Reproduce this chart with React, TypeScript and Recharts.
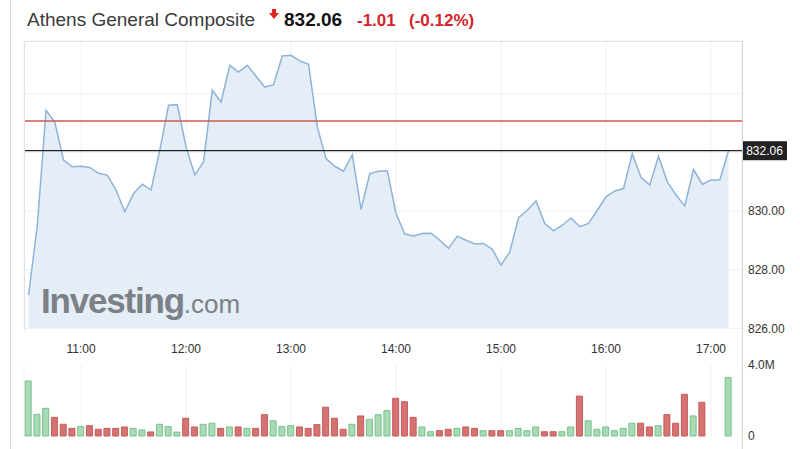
import {
  ComposedChart,
  Area,
  Bar,
  Cell,
  XAxis,
  YAxis,
  CartesianGrid,
  ReferenceLine
} from "recharts"

// 5-minute session points, Athens General Composite
const times = [
  "10:30", "10:35", "10:40", "10:45", "10:50", "10:55",
  "11:00", "11:05", "11:10", "11:15", "11:20", "11:25", "11:30", "11:35", "11:40", "11:45", "11:50", "11:55",
  "12:00", "12:05", "12:10", "12:15", "12:20", "12:25", "12:30", "12:35", "12:40", "12:45", "12:50", "12:55",
  "13:00", "13:05", "13:10", "13:15", "13:20", "13:25", "13:30", "13:35", "13:40", "13:45", "13:50", "13:55",
  "14:00", "14:05", "14:10", "14:15", "14:20", "14:25", "14:30", "14:35", "14:40", "14:45", "14:50", "14:55",
  "15:00", "15:05", "15:10", "15:15", "15:20", "15:25", "15:30", "15:35", "15:40", "15:45", "15:50", "15:55",
  "16:00", "16:05", "16:10", "16:15", "16:20", "16:25", "16:30", "16:35", "16:40", "16:45", "16:50", "16:55",
  "17:00", "17:05", "17:10"
]

const prices = [
  827.14, 829.52, 833.44, 833.04, 831.74, 831.51,
  831.53, 831.49, 831.29, 831.23, 830.72, 829.98, 830.6, 830.92, 830.72, 832.08, 833.61, 833.63,
  832.19, 831.23, 831.68, 834.12, 833.72, 834.97, 834.74, 834.97, 834.6, 834.23, 834.31, 835.29,
  835.31, 835.12, 835.01, 832.87, 831.79, 831.53, 831.36, 831.93, 830.06, 831.28, 831.36, 831.38,
  829.92, 829.22, 829.15, 829.24, 829.25, 829.01, 828.73, 829.15, 829.01, 828.88, 828.9, 828.7,
  828.16, 828.61, 829.78, 830.03, 830.35, 829.58, 829.33, 829.52, 829.77, 829.47, 829.58, 830.03,
  830.49, 830.69, 830.77, 831.96, 831.15, 830.89, 831.87, 831.0, 830.55, 830.18, 831.42, 830.92,
  831.06, 831.06, 832.06
]

// volume in millions
const volumes = [
  3.1, 1.22, 1.56, 1.05, 0.66, 0.43,
  0.53, 0.58, 0.38, 0.43, 0.43, 0.51, 0.43, 0.34, 0.23, 0.66, 0.53, 0.22,
  1.0, 0.51, 0.66, 0.72, 0.43, 0.51, 0.51, 0.43, 0.43, 1.2, 0.86, 0.53,
  0.58, 0.51, 0.43, 0.64, 1.62, 1.0, 0.38, 0.66, 1.13, 0.94, 1.2, 1.43,
  2.12, 1.93, 1.05, 0.51, 0.24, 0.3, 0.38, 0.43, 0.51, 0.43, 0.3, 0.3,
  0.3, 0.3, 0.43, 0.3, 0.51, 0.24, 0.24, 0.24, 0.51, 2.25, 0.86, 0.38,
  0.51, 0.3, 0.43, 0.72, 0.72, 0.51, 0.58, 1.2, 0.72, 2.35, 1.13, 1.9,
  0, 0, 3.3
]

const prevClose = 833.07
const lastPrice = 832.06
const hourTicks = ["11:00", "12:00", "13:00", "14:00", "15:00", "16:00", "17:00"]
const priceTicks = [826, 828, 830, 832, 834]
const volumeTicks = [0, 4]

const toMinutes = (s: string) => {
  const [h, m] = s.split(":").map(Number)
  return h * 60 + m
}
const fmtTime = (v: number) => `${Math.floor(v / 60)}:${String(v % 60).padStart(2, "0")}`

const data = times.map((s, i) => ({
  t: toMinutes(s),
  price: prices[i],
  volume: volumes[i],
  up: i === 0 || prices[i] >= prices[i - 1]
}))

const xDomain = [627.4, 1037.7]
const xTicks = hourTicks.map(toMinutes)
const axisTick = { fill: "#333", fontSize: 12 }

const PriceTag = ({ viewBox }: any) => {
  const { x, y, width } = viewBox
  return (
    <g>
      <rect x={x + width} y={y - 9.5} width={45} height={19} fill="#222" />
      <text x={x + width + 22.5} y={y + 4.5} textAnchor="middle" fill="#fff" fontSize={12}>
        {lastPrice.toFixed(2)}
      </text>
    </g>
  )
}

const line = (style: React.CSSProperties) => (
  <div style={{ position: "absolute", background: "#e2e2e2", ...style }} />
)

export default function App() {
  return (
    <div
      style={{
        position: "absolute",
        left: 0,
        top: 0,
        width: 800,
        height: 449,
        background: "#fff",
        overflow: "hidden",
        fontFamily: "Arial, 'Liberation Sans', sans-serif"
      }}
    >
      {line({ left: 10, top: 0, width: 1, height: 449, background: "#d8d8d8" })}

      {/* header */}
      <div style={{ position: "absolute", left: 27, top: 9, fontSize: 19, lineHeight: "22px", color: "#3a3a3a" }}>
        Athens General Composite
      </div>
      <svg style={{ position: "absolute", left: 269, top: 9 }} width={10} height={11}>
        <polygon points="3,0 7,0 7,4 10,4 5,10 0,4 3,4" fill="#e0261f" />
      </svg>
      <div style={{ position: "absolute", left: 284, top: 9, fontSize: 19, lineHeight: "22px", fontWeight: "bold", color: "#111" }}>
        {lastPrice.toFixed(2)}
      </div>
      <div style={{ position: "absolute", left: 357, top: 10, fontSize: 17, lineHeight: "22px", fontWeight: "bold", color: "#d5232b" }}>
        {(lastPrice - prevClose).toFixed(2)}
      </div>
      <div style={{ position: "absolute", left: 409, top: 10, fontSize: 17, lineHeight: "22px", fontWeight: "bold", color: "#d5232b" }}>
        (-0.12%)
      </div>

      {/* price panel */}
      <div style={{ position: "absolute", left: 0, top: 0 }}>
        <ComposedChart width={800} height={360} data={data} margin={{ top: 41, right: 0, bottom: 0, left: 24 }}>
          <CartesianGrid stroke="#f1f1f1" />
          <XAxis
            dataKey="t"
            type="number"
            domain={xDomain}
            ticks={xTicks}
            tickFormatter={fmtTime}
            axisLine={false}
            tickLine={false}
            tickSize={0}
            tickMargin={16}
            height={31.5}
            tick={axisTick}
            allowDataOverflow
          />
          <YAxis
            orientation="right"
            domain={[826, 835.8]}
            ticks={priceTicks}
            tickFormatter={(v: number) => (v > 831 ? "" : v.toFixed(2))}
            axisLine={false}
            tickLine={false}
            tickSize={0}
            tickMargin={6}
            width={58}
            tick={axisTick}
            allowDataOverflow
          />
          <Area
            type="linear"
            dataKey="price"
            stroke="#8cb4d8"
            strokeWidth={1.5}
            fill="#e5edf6"
            fillOpacity={1}
            dot={false}
            activeDot={false}
            isAnimationActive={false}
          />
          <ReferenceLine y={prevClose} stroke="#cf5853" strokeWidth={1.5} />
          <ReferenceLine y={lastPrice} stroke="#222" strokeWidth={1.2} label={<PriceTag />} />
        </ComposedChart>
      </div>

      {/* watermark */}
      <svg style={{ position: "absolute", left: 0, top: 0, pointerEvents: "none" }} width={800} height={449}>
        <text x={41} y={313} fill="#7c8087" fontSize={35} fontWeight="bold" letterSpacing={-1.2}>
          Investing
          <tspan fontSize={26} fontWeight="normal" letterSpacing={0}>.com</tspan>
        </text>
      </svg>

      {/* volume panel */}
      <div style={{ position: "absolute", left: 0, top: 355 }}>
        <ComposedChart width={800} height={94} data={data} margin={{ top: 10, right: 0, bottom: 13, left: 24 }}>
          <CartesianGrid stroke="#f1f1f1" horizontal={false} />
          <XAxis dataKey="t" type="number" domain={xDomain} ticks={xTicks} hide allowDataOverflow />
          <YAxis
            orientation="right"
            domain={[0, 4]}
            ticks={volumeTicks}
            tickFormatter={(v: number) => (v === 0 ? "0" : v.toFixed(1) + "M")}
            axisLine={false}
            tickLine={false}
            tickSize={0}
            tickMargin={6}
            width={58}
            tick={axisTick}
          />
          <Bar dataKey="volume" barSize={6} isAnimationActive={false}>
            {data.map((d, i) => (
              <Cell key={i} fill={d.up ? "#a7dab5" : "#d57272"} stroke={d.up ? "#78c18e" : "#c65c5c"} />
            ))}
          </Bar>
        </ComposedChart>
      </div>

      {/* frame */}
      {line({ left: 24, top: 41, width: 718, height: 1 })}
      {line({ left: 24, top: 41, width: 1, height: 289 })}
      {line({ left: 742, top: 41, width: 1, height: 408, background: "#d4d4d4" })}
    </div>
  )
}
